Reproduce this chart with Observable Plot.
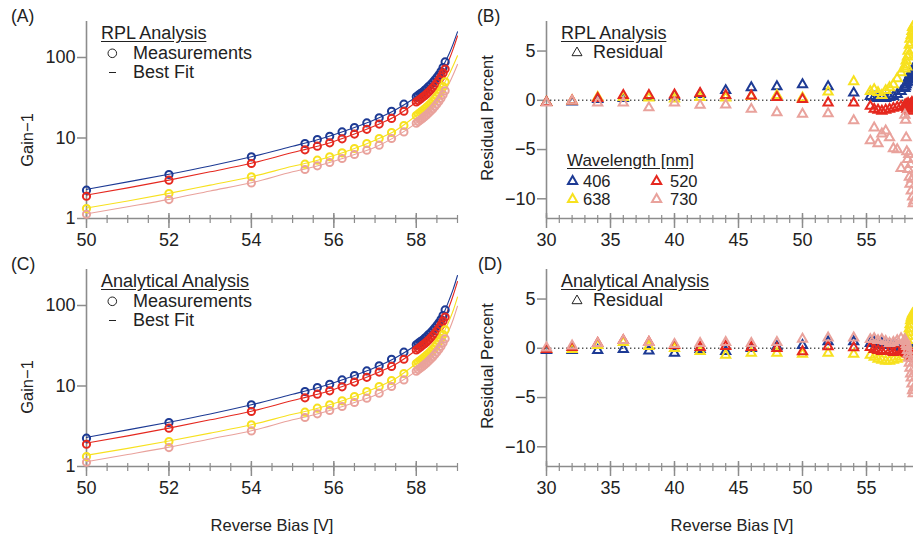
<!DOCTYPE html>
<html><head><meta charset="utf-8">
<script src="https://cdn.jsdelivr.net/npm/d3@7"></script>
<script src="https://cdn.jsdelivr.net/npm/@observablehq/plot@0.6"></script>
<style>
html,body{margin:0;padding:0;background:#fff;overflow:hidden;}
#fig{position:relative;width:913px;height:538px;overflow:hidden;font-family:"Liberation Sans",Arial,Helvetica,sans-serif;color:#222;}
.t{position:absolute;white-space:nowrap;line-height:1;}
svg{display:block;max-width:none !important;}
</style></head>
<body><div id="fig"></div>
<script>
// ---------- data ----------
const wavelengths = ["406", "520", "638", "730"];
const seriesColors = ["#1d3a94", "#e5281f", "#f7e11f", "#e9a29c"];

const gainBias = [50, 52, 54, 55.3, 55.6, 55.9, 56.2, 56.5, 56.8, 57.1, 57.4, 57.7, 58.0, 58.05, 58.1, 58.15, 58.2, 58.25, 58.3, 58.35, 58.4, 58.45, 58.5, 58.55, 58.6, 58.65, 58.7];
const gain406 = [2.25, 3.52, 5.83, 8.55, 9.58, 10.5, 11.9, 13.5, 15.4, 17.8, 21.5, 26.3, 32.5, 34, 35.5, 37, 39, 41, 43.5, 46, 49, 52.5, 56.5, 61, 67, 75, 88];
const gain520 = [1.89, 2.99, 4.82, 7.13, 7.92, 8.7, 9.77, 11.2, 12.8, 14.9, 17.5, 21.5, 28, 29.2, 30.5, 32, 33.5, 35.3, 37.2, 39.5, 42, 45, 48.5, 52.5, 57.5, 64, 72];
const gain638 = [1.33, 2.04, 3.3, 4.73, 5.3, 5.83, 6.54, 7.41, 8.55, 9.86, 11.7, 14.3, 19, 19.9, 20.8, 21.8, 22.9, 24.1, 25.4, 26.9, 28.6, 30.6, 32.9, 35.6, 39, 43.5, 50];
const gain730 = [1.13, 1.72, 2.77, 4.06, 4.51, 4.96, 5.56, 6.24, 7.06, 8.15, 9.86, 11.9, 15.3, 16, 16.7, 17.5, 18.4, 19.3, 20.4, 21.6, 23, 24.6, 26.4, 28.6, 31.2, 34.5, 38.5];

const fitBias = [50, 51, 52, 53, 54, 55, 55.5, 56, 56.5, 57, 57.5, 58, 58.3, 58.5, 58.7, 58.8, 58.9, 59];
const fitRpl406 = [2.3, 2.85, 3.55, 4.5, 5.85, 7.9, 9.2, 11, 13.5, 17, 22.5, 32.5, 43.5, 56.5, 88, 112, 150, 208];
const fitRpl520 = [1.95, 2.4, 3.0, 3.8, 4.85, 6.6, 7.65, 9.05, 11.2, 14.2, 18.6, 28, 37.2, 48.5, 72, 95, 130, 185];
const fitRpl638 = [1.35, 1.65, 2.05, 2.6, 3.3, 4.45, 5.1, 6.05, 7.41, 9.4, 12.4, 19, 25.4, 32.9, 50, 62, 80, 105];
const fitRpl730 = [1.14, 1.4, 1.73, 2.2, 2.78, 3.8, 4.36, 5.15, 6.24, 7.7, 10.4, 15.3, 20.4, 26.4, 38.5, 48, 62, 82];
const fitAna406 = [2.3, 2.85, 3.55, 4.5, 5.85, 7.9, 9.2, 11, 13.5, 17, 22.5, 32.5, 43.5, 56.5, 88, 118, 162, 236];
const fitAna520 = [1.95, 2.4, 3.0, 3.8, 4.85, 6.6, 7.65, 9.05, 11.2, 14.2, 18.6, 28, 37.2, 48.5, 72, 97, 136, 198];
const fitAna638 = [1.38, 1.68, 2.07, 2.6, 3.3, 4.45, 5.1, 6.05, 7.41, 9.4, 12.4, 19, 25.4, 32.9, 50, 65, 88, 127];
const fitAna730 = [1.15, 1.41, 1.74, 2.2, 2.78, 3.8, 4.36, 5.15, 6.24, 7.7, 10.4, 15.3, 20.4, 26.4, 38.5, 50, 68, 98];

const residBias = [30, 32, 34, 36, 38, 40, 42, 44, 46, 48, 50, 52, 54, 55.3, 55.6, 55.9, 56.2, 56.5, 56.8, 57.1, 57.4, 57.7, 58.0, 58.05, 58.1, 58.15, 58.2, 58.25, 58.3, 58.35, 58.4, 58.45, 58.5, 58.55, 58.6, 58.65, 58.7];
const residRpl406 = [-0.2, -0.15, 0.1, 0.2, 0.3, 0.4, 0.6, 1.0, 1.3, 1.4, 1.6, 1.4, 0.75, 0.4, 0.3, 0.2, 0.3, 0.2, 0.3, 0.4, 0.6, 0.9, 1.2, 1.4, 1.6, 1.8, 1.9, 2.1, 2.3, 2.4, 2.6, 2.7, 2.9, 3.0, 3.1, 3.2, 3.3];
const residRpl520 = [-0.2, -0.05, 0.2, 0.5, 0.5, 0.55, 0.7, 0.5, 0.45, 0.3, 0.1, -0.25, -0.25, -0.6, -0.9, -1.0, -1.1, -1.0, -0.9, -0.8, -0.7, -0.6, -0.5, -0.7, -0.4, -0.9, -0.6, -0.3, -0.8, -0.5, -1.1, -0.4, -0.7, -0.2, -0.9, -0.5, -0.3];
const residRpl638 = [-0.2, -0.05, 0.3, 0.3, 0.25, 0.15, 0.3, 0.25, 0.4, 0.5, 0.25, 0.85, 1.9, 0.9, 1.1, 0.8, 0.5, 1.0, 1.3, 1.6, 2.2, 2.8, 3.2, 3.6, 4.0, 3.4, 4.4, 5.0, 4.6, 5.6, 6.2, 5.8, 6.6, 7.0, 7.4, 6.8, 7.6];
const residRpl730 = [-0.25, -0.05, -0.25, -0.25, -0.75, -0.25, -0.5, -0.45, -0.9, -1.25, -1.4, -1.35, -2.05, -4.1, -2.8, -4.4, -3.4, -3.1, -3.8, -4.9, -5.0, -6.9, -1.5, -2.0, -3.8, -5.2, -6.0, -7.0, -5.5, -7.8, -8.5, -6.5, -9.2, -8.0, -9.8, -10.5, -10.2];
const residAna406 = [-0.2, -0.2, -0.2, -0.1, -0.25, -0.5, -0.1, -0.3, 0.0, 0.17, 0.3, 0.67, 0.67, 0.5, 0.6, 0.4, 0.5, 0.3, 0.4, 0.2, 0.3, 0.1, 0.2, 0.0, 0.3, -0.1, 0.2, 0.1, -0.2, 0.0, -0.3, 0.1, -0.4, -0.2, -0.5, -0.3, -0.6];
const residAna520 = [-0.1, 0.1, 0.5, 0.8, 0.6, 0.3, 0.1, 0.2, 0.1, 0.0, -0.33, 0.17, 0.07, 0.1, -0.1, -0.2, -0.3, -0.2, -0.3, -0.4, -0.2, -0.3, 0.0, -0.4, -0.1, -0.5, -0.2, -0.6, -0.3, -0.5, -0.7, -0.4, -0.8, -0.6, -0.9, -0.7, -1.0];
const residAna638 = [-0.1, -0.1, 0.3, 0.6, 0.2, 0.0, -0.3, -0.7, -0.5, -0.5, -0.6, -0.5, -0.6, -0.7, -0.9, -1.1, -1.2, -1.3, -1.3, -1.2, -1.1, -0.9, -0.6, -0.3, 0.0, 0.4, 0.8, 1.2, 1.6, 2.0, 2.4, 2.8, 3.1, 3.3, 3.5, 3.2, 3.0];
const residAna730 = [0.05, 0.25, 0.5, 0.8, 0.6, 0.4, 0.5, 0.6, 0.5, 0.6, 0.93, 1.07, 1.07, 0.9, 1.0, 0.8, 0.9, 0.7, 0.5, 0.6, 0.8, 1.0, 0.9, 0.7, 0.4, 0.2, -0.2, -0.6, -1.0, -1.5, -2.0, -2.6, -3.0, -3.6, -4.3, -4.6, -4.0];

const xMajorGain = [50, 52, 54, 56, 58];
const xMinorGain = [50, 50.5, 51, 51.5, 52, 52.5, 53, 53.5, 54, 54.5, 55, 55.5, 56, 56.5, 57, 57.5, 58, 58.5, 59];
const yTicksGain = [1, 10, 100];
const xMajorResid = [30, 35, 40, 45, 50, 55];
const xMinorResid = [30, 31, 32, 33, 34, 35, 36, 37, 38, 39, 40, 41, 42, 43, 44, 45, 46, 47, 48, 49, 50, 51, 52, 53, 54, 55, 56, 57, 58, 59, 60];
const yTicksResid = [-10, -5, 0, 5];

// ---------- drawing ----------
const AX = "#8c8c8c", TXT = "#222";
const FONT = "'Liberation Sans', Arial, Helvetica, sans-serif";
const fig = document.getElementById("fig");
const style = {fontFamily: FONT, fontSize: "18px", color: TXT, background: "transparent", overflow: "visible", maxWidth: "none"};

function xAxes(major, minor) {
  return [
    Plot.axisX({ticks: major, tickSize: 10, tickPadding: 5, stroke: AX, strokeWidth: 1.5, fill: TXT, fontSize: 18, label: null}),
    Plot.axisX({ticks: major, tickSize: -5, stroke: AX, strokeWidth: 1.5, fill: "none", label: null}),
    Plot.axisX({ticks: minor, tickSize: 5, stroke: AX, strokeWidth: 1.2, fill: "none", label: null}),
    Plot.axisX({ticks: minor, tickSize: -3, stroke: AX, strokeWidth: 1.2, fill: "none", label: null})
  ];
}

const gains = [gain406, gain520, gain638, gain730];

function gainPanel(fits) {
  const marks = [
    Plot.ruleX([50], {stroke: AX, strokeWidth: 1.6}),
    Plot.ruleY([1], {stroke: AX, strokeWidth: 1.6}),
    ...xAxes(xMajorGain, xMinorGain),
    Plot.axisY({ticks: yTicksGain, tickSize: 9, tickPadding: 2, stroke: AX, strokeWidth: 1.5, fill: TXT, fontSize: 18, tickFormat: d => String(d), label: null})
  ];
  fits.forEach((f, j) => marks.push(Plot.line(fitBias.map((x, i) => ({x, y: f[i]})), {x: "x", y: "y", stroke: seriesColors[j], strokeWidth: 1.1, curve: "monotone-x"})));
  gains.forEach((g, j) => marks.push(Plot.dot(gainBias.map((x, i) => ({x, y: g[i]})), {x: "x", y: "y", r: 3.6, stroke: seriesColors[j], strokeWidth: 2, fill: "none"})));
  return Plot.plot({width: 460, height: 250, marginLeft: 86, marginRight: 3, marginTop: 21, marginBottom: 32,
    x: {domain: [50, 59]}, y: {type: "log", domain: [1, 280]}, style, marks});
}

function residPanel(res) {
  const marks = [
    Plot.ruleY([0], {stroke: "#555", strokeWidth: 1.4, strokeDasharray: "1.4,2.6"}),
    Plot.ruleX([30], {stroke: AX, strokeWidth: 1.6}),
    Plot.ruleY([-12], {stroke: AX, strokeWidth: 1.6}),
    ...xAxes(xMajorResid, xMinorResid),
    Plot.axisY({ticks: yTicksResid, tickSize: 9, tickPadding: 2, stroke: AX, strokeWidth: 1.5, fill: TXT, fontSize: 18, label: null})
  ];
  [0, 2, 1, 3].forEach(j => marks.push(Plot.dot(residBias.map((x, i) => ({x, y: res[j][i]})), {x: "x", y: "y", symbol: "triangle", r: 3.4, stroke: seriesColors[j], strokeWidth: 2, fill: "none"})));
  return Plot.plot({width: 470, height: 250, marginLeft: 86, marginRight: 0, marginTop: 21, marginBottom: 32,
    x: {domain: [30, 60]}, y: {domain: [-12, 8]}, style, marks});
}

function place(node, left, top, w) {
  const d = document.createElement("div");
  d.style.cssText = `position:absolute;left:${left}px;top:${top}px;width:${w}px;`;
  d.appendChild(node);
  fig.appendChild(d);
}
function text(str, left, top, size = 18, extra = "") {
  const d = document.createElement("div");
  d.className = "t";
  d.style.cssText += `left:${left}px;top:${top}px;font-size:${size}px;${extra}`;
  d.textContent = str;
  fig.appendChild(d);
}
function ltext(str, left, cy, size, extra = "") {
  const d = document.createElement("div");
  d.className = "t";
  d.style.cssText += `left:${left}px;top:${cy}px;font-size:${size}px;line-height:normal;transform:translateY(-50%);${extra}`;
  d.textContent = str;
  fig.appendChild(d);
}
function ctext(str, cx, cy, size, rot = 0) {
  const d = document.createElement("div");
  d.className = "t";
  d.style.cssText += `left:${cx}px;top:${cy}px;font-size:${size}px;transform:translate(-50%,-50%) rotate(${rot}deg);`;
  d.textContent = str;
  fig.appendChild(d);
}
function sym(kind, cx, cy, color, sw, s) {
  const ns = "http://www.w3.org/2000/svg";
  const svg = document.createElementNS(ns, "svg");
  const w = s * 2 + 6;
  svg.setAttribute("width", w); svg.setAttribute("height", w);
  svg.style.cssText = `position:absolute;left:${cx - w / 2}px;top:${cy - w / 2}px;overflow:visible;`;
  const c = w / 2;
  let el;
  if (kind === "circle") {
    el = document.createElementNS(ns, "circle");
    el.setAttribute("cx", c); el.setAttribute("cy", c); el.setAttribute("r", s);
  } else if (kind === "triangle") {
    el = document.createElementNS(ns, "path");
    const h = s * 0.866;
    el.setAttribute("d", `M${c},${c - h * 1.15}L${c + s},${c + h * 0.85}L${c - s},${c + h * 0.85}Z`);
  } else {
    el = document.createElementNS(ns, "line");
    el.setAttribute("x1", c - s); el.setAttribute("x2", c + s); el.setAttribute("y1", c); el.setAttribute("y2", c);
  }
  el.setAttribute("fill", "none"); el.setAttribute("stroke", color); el.setAttribute("stroke-width", sw);
  svg.appendChild(el);
  fig.appendChild(svg);
}

place(gainPanel([fitRpl406, fitRpl520, fitRpl638, fitRpl730]), 0, 0, 460);
place(residPanel([residRpl406, residRpl520, residRpl638, residRpl730]), 460, 0, 470);
place(gainPanel([fitAna406, fitAna520, fitAna638, fitAna730]), 0, 248, 460);
place(residPanel([residAna406, residAna520, residAna638, residAna730]), 460, 248, 470);

// panel letters
text("(A)", 11, 8, 17.5); text("(B)", 477, 8, 17.5);
text("(C)", 11, 256, 17.5); text("(D)", 478, 256, 17.5);

// legends A / C
[["RPL Analysis", 0], ["Analytical Analysis", 248]].forEach(([title, dy]) => {
  text(title, 101, 24 + dy, 18, "text-decoration:underline;text-underline-offset:2px;");
  sym("circle", 112.5, 53 + dy, TXT, 1, 4.3);
  text("Measurements", 133, 44 + dy, 18);
  sym("line", 112.5, 72 + dy, TXT, 1, 3.5);
  text("Best Fit", 133, 63 + dy, 18);
});
// legends B / D
[["RPL Analysis", 0], ["Analytical Analysis", 248]].forEach(([title, dy]) => {
  text(title, 561, 24 + dy, 18, "text-decoration:underline;text-underline-offset:2px;");
  sym("triangle", 577, 52 + dy, TXT, 1, 5);
  text("Residual", 593, 43 + dy, 18);
});
ltext("Wavelength [nm]", 567, 160.5, 17, "text-decoration:underline;text-underline-offset:2px;");
const legPos = [[573, 180.5, 583], [656.7, 180.5, 670], [573, 199, 583], [656.7, 199, 670]];
[0, 1, 2, 3].forEach(j => {
  const [sx, sy, tx] = legPos[j];
  sym("triangle", sx, sy, seriesColors[j], 2, 4.6);
  ltext(wavelengths[j], tx, sy, 16.5);
});

// axis titles
ctext("Gain\u22121", 27, 140, 16.5, -90);
ctext("Gain\u22121", 27, 387, 16.5, -90);
ctext("Residual Percent", 487, 118, 16.5, -90);
ctext("Residual Percent", 487, 366, 16.5, -90);
ctext("Reverse Bias [V]", 272, 525, 16.5);
ctext("Reverse Bias [V]", 732, 525, 16.5);
</script>
</body></html>
